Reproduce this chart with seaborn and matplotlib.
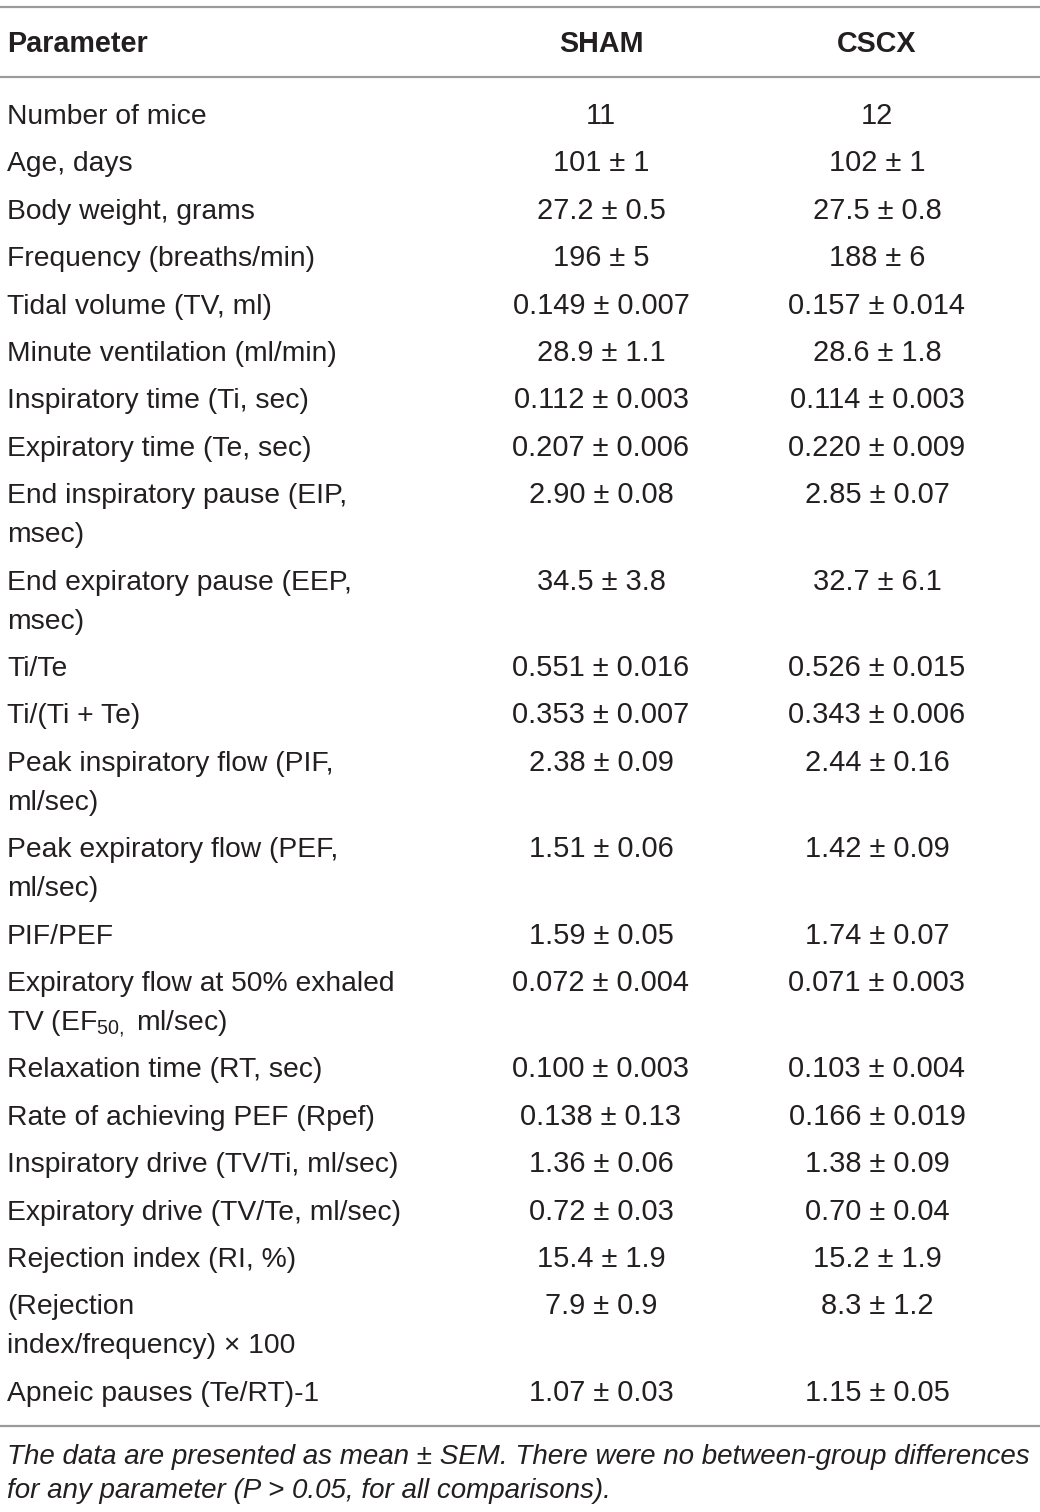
import matplotlib
matplotlib.use("Agg")
import matplotlib.pyplot as plt
from matplotlib import font_manager
import seaborn as sns

sns.set_theme(style="white")
plt.rcParams['font.family'] = ['Liberation Sans', 'DejaVu Sans']
plt.rcParams['mathtext.fontset'] = 'custom'
plt.rcParams['mathtext.rm'] = 'Liberation Sans'
plt.rcParams['mathtext.it'] = 'Liberation Sans:italic'

# ---------------- data ----------------
header = ["Parameter", "SHAM", "CSCX"]
params = [
    "Number of mice",
    "Age, days",
    "Body weight, grams",
    "Frequency (breaths/min)",
    "Tidal volume (TV, ml)",
    "Minute ventilation (ml/min)",
    "Inspiratory time (Ti, sec)",
    "Expiratory time (Te, sec)",
    "End inspiratory pause (EIP,\nmsec)",
    "End expiratory pause (EEP,\nmsec)",
    "Ti/Te",
    "Ti/(Ti + Te)",
    "Peak inspiratory flow (PIF,\nml/sec)",
    "Peak expiratory flow (PEF,\nml/sec)",
    "PIF/PEF",
    "Expiratory flow at 50% exhaled\nTV (EF$_{\\mathrm{50,}}$ ml/sec)",
    "Relaxation time (RT, sec)",
    "Rate of achieving PEF (Rpef)",
    "Inspiratory drive (TV/Ti, ml/sec)",
    "Expiratory drive (TV/Te, ml/sec)",
    "Rejection index (RI, %)",
    "(Rejection\nindex/frequency) \u00d7 100",
    "Apneic pauses (Te/RT)-1",
]
sham = ["11", "101 \u00b1 1", "27.2 \u00b1 0.5", "196 \u00b1 5", "0.149 \u00b1 0.007",
        "28.9 \u00b1 1.1", "0.112 \u00b1 0.003", "0.207 \u00b1 0.006", "2.90 \u00b1 0.08",
        "34.5 \u00b1 3.8", "0.551 \u00b1 0.016", "0.353 \u00b1 0.007", "2.38 \u00b1 0.09",
        "1.51 \u00b1 0.06", "1.59 \u00b1 0.05", "0.072 \u00b1 0.004", "0.100 \u00b1 0.003",
        "0.138 \u00b1 0.13", "1.36 \u00b1 0.06", "0.72 \u00b1 0.03", "15.4 \u00b1 1.9",
        "7.9 \u00b1 0.9", "1.07 \u00b1 0.03"]
cscx = ["12", "102 \u00b1 1", "27.5 \u00b1 0.8", "188 \u00b1 6", "0.157 \u00b1 0.014",
        "28.6 \u00b1 1.8", "0.114 \u00b1 0.003", "0.220 \u00b1 0.009", "2.85 \u00b1 0.07",
        "32.7 \u00b1 6.1", "0.526 \u00b1 0.015", "0.343 \u00b1 0.006", "2.44 \u00b1 0.16",
        "1.42 \u00b1 0.09", "1.74 \u00b1 0.07", "0.071 \u00b1 0.003", "0.103 \u00b1 0.004",
        "0.166 \u00b1 0.019", "1.38 \u00b1 0.09", "0.70 \u00b1 0.04", "15.2 \u00b1 1.9",
        "8.3 \u00b1 1.2", "1.15 \u00b1 0.05"]
footnote = ["The data are presented as mean \u00b1 SEM. There were no between-group differences",
            "for any parameter (P > 0.05, for all comparisons)."]

# ---------------- layout ----------------
W, H = 1040, 1512
fig = plt.figure(figsize=(W / 100, H / 100), dpi=100)
ax = fig.add_axes([0, 0, 1, 1])
ax.set_xlim(0, W)
ax.set_ylim(H, 0)
ax.axis('off')

txt = '#231f20'
rule = '#9b9b9b'
fs = 20.3
x_par, x_sham, x_cscx = 7, 601, 877
row_gap, line_gap = 47.4, 39.0

for yr in (6.5, 77, 1425.5):
    ax.axhline(yr, color=rule, lw=1.6)

hb = 52.5
ax.text(x_par, hb, header[0], ha='left', va='baseline', fontsize=fs + 0.4, fontweight='bold', color=txt)
ax.text(x_sham, hb, header[1], ha='center', va='baseline', fontsize=fs + 0.4, fontweight='bold', color=txt)
ax.text(x_cscx, hb, header[2], ha='center', va='baseline', fontsize=fs + 0.4, fontweight='bold', color=txt)

y = 124.0
for p, s, c in zip(params, sham, cscx):
    lines = p.split("\n")
    for k, ln in enumerate(lines):
        ax.text(x_par, y + k * line_gap, ln, ha='left', va='baseline', fontsize=fs, color=txt)
    ax.text(x_sham, y, s, ha='center', va='baseline', fontsize=fs + 0.6, color=txt)
    ax.text(x_cscx, y, c, ha='center', va='baseline', fontsize=fs + 0.6, color=txt)
    y += row_gap + line_gap * (len(lines) - 1)

# footnote: narrow italic if available, fitted to the line width
names = {f.name for f in font_manager.fontManager.ttflist}
foot_family = ['Liberation Sans Narrow'] if 'Liberation Sans Narrow' in names else ['Liberation Sans']
fig.canvas.draw()
r = fig.canvas.get_renderer()
t1 = ax.text(x_par, 1464, footnote[0], ha='left', va='baseline', fontsize=fs,
             style='italic', color=txt, family=foot_family)
bb = t1.get_window_extent(renderer=r)
ffs = fs * 1026 / bb.width
t1.set_fontsize(ffs)
ax.text(x_par, 1498, footnote[1], ha='left', va='baseline', fontsize=ffs,
        style='italic', color=txt, family=foot_family)

fig.savefig("out.png", dpi=100, facecolor='white')
